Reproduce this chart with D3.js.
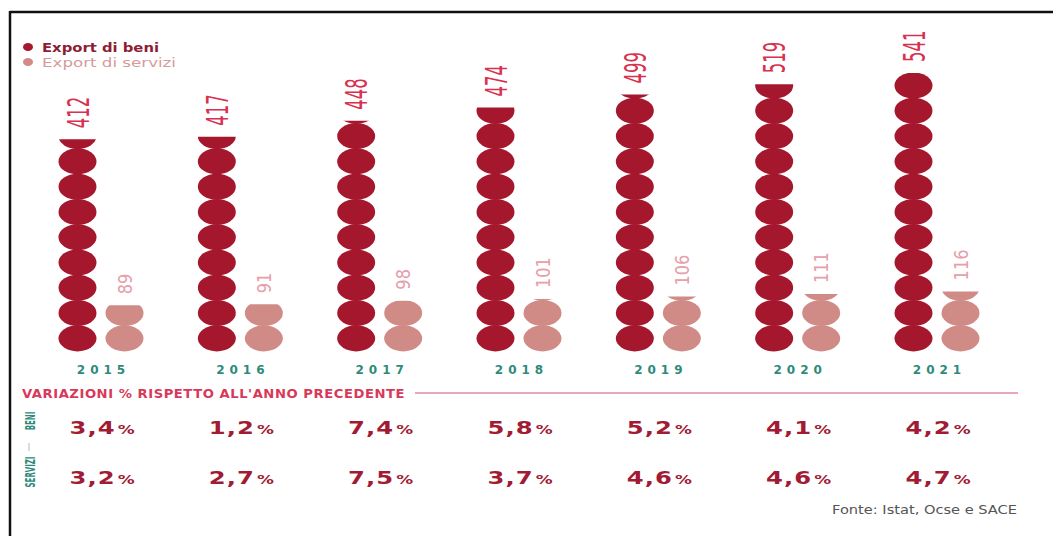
<!DOCTYPE html>
<html>
<head>
<meta charset="utf-8">
<script src="https://cdn.jsdelivr.net/npm/d3@7"></script>
<style>
  body { margin: 0; background: #fff; }
  svg { display: block; font-family: 'DejaVu Sans', sans-serif; }
</style>
</head>
<body>
<div class="App"></div>
<script>
const years = ['2015', '2016', '2017', '2018', '2019', '2020', '2021'];
const exportBeni = [412, 417, 448, 474, 499, 519, 541];
const exportServizi = [89, 91, 98, 101, 106, 111, 116];
const varBeni = [3.4, 1.2, 7.4, 5.8, 5.2, 4.1, 4.2];
const varServizi = [3.2, 2.7, 7.5, 3.7, 4.6, 4.6, 4.7];
const legendLabels = ['Export di beni', 'Export di servizi'];

const w = 1053;
const h = 536;
const base = 351;       // bottom of the dot columns
const dotValue = 49.2;  // how much one ellipse is worth
const off = 23.5;       // half distance between the two columns of a year

const colBeni = '#a5172d';
const colServizi = '#d08b87';

const svg = d3.select('.App').append('svg')
  .attr('width', w)
  .attr('height', h);

// frame, only top and left like the screenshot
svg.append('line').attr('x1', 10).attr('x2', w).attr('y1', 12).attr('y2', 12)
  .style('stroke', '#111').style('stroke-width', 2.5);
svg.append('line').attr('x1', 10).attr('x2', 10).attr('y1', 11).attr('y2', h)
  .style('stroke', '#111').style('stroke-width', 2.5);

const xScale = d3.scalePoint().domain(years).range([101, 937]);
const yScale = d3.scaleLinear().domain([0, 541]).range([base, 73]);

const pitch = yScale(0) - yScale(dotValue);
const ry = pitch / 2 + 0.4;
const rx = 19;

const fmt = (v) => d3.format('.1f')(v).replace('.', ',');

const series = [
  { key: 'beni', values: exportBeni, dx: -off, fill: colBeni },
  { key: 'servizi', values: exportServizi, dx: off, fill: colServizi }
];

const defs = svg.append('defs');

series.forEach(function(s) {
  years.forEach(function(yr, i) {
    const v = s.values[i];
    const cx = xScale(yr) + s.dx;
    const id = 'clip-' + s.key + '-' + yr;
    defs.append('clipPath').attr('id', id)
      .append('rect')
      .attr('x', cx - rx - 2)
      .attr('width', rx * 2 + 4)
      .attr('y', yScale(v))
      .attr('height', base - yScale(v) + 3);

    const n = Math.ceil(v / dotValue);
    svg.append('g').attr('clip-path', 'url(#' + id + ')')
      .selectAll('ellipse')
      .data(d3.range(n))
      .enter()
      .append('ellipse')
      .attr('cx', cx)
      .attr('cy', (d) => yScale((d + 0.5) * dotValue))
      .attr('rx', rx)
      .attr('ry', ry)
      .style('fill', s.fill);
  });
});

// value labels, rotated and squeezed
svg.selectAll('.lab-beni')
  .data(exportBeni)
  .enter()
  .append('text')
  .attr('class', 'lab-beni')
  .attr('transform', (d, i) => 'translate(' + (xScale(years[i]) - off + 11) + ',' + (yScale(d) - 11) + ') rotate(-90) scale(0.55,1)')
  .style('font-size', '30px')
  .style('fill', '#d8304f')
  .text((d) => d);

svg.selectAll('.lab-serv')
  .data(exportServizi)
  .enter()
  .append('text')
  .attr('class', 'lab-serv')
  .attr('transform', (d, i) => 'translate(' + (xScale(years[i]) + off + 7) + ',' + (yScale(d) - 11) + ') rotate(-90) scale(0.85,1)')
  .style('font-size', '19px')
  .style('fill', '#e6a0ab')
  .text((d) => d);

// year labels
svg.selectAll('.year')
  .data(years)
  .enter()
  .append('text')
  .attr('class', 'year')
  .attr('x', (d) => xScale(d) + 2.5)
  .attr('y', 373.5)
  .attr('text-anchor', 'middle')
  .style('font-size', '12px')
  .style('font-weight', '700')
  .style('letter-spacing', '5px')
  .style('fill', '#2f8a7c')
  .text((d) => d);

// legend
legendLabels.forEach(function(l, i) {
  svg.append('ellipse').attr('cx', 28).attr('cy', 47 + i * 15).attr('rx', 5).attr('ry', 4)
    .style('fill', i === 0 ? colBeni : colServizi);
  svg.append('text').attr('x', 42).attr('y', 51.5 + i * 15)
    .attr('textLength', i === 0 ? 117 : 134)
    .attr('lengthAdjust', 'spacingAndGlyphs')
    .style('font-size', '13px')
    .style('font-weight', i === 0 ? '700' : '400')
    .style('fill', i === 0 ? '#8e1d33' : '#d69a9c')
    .text(l);
});

// variazioni section
svg.append('text')
  .attr('x', 22).attr('y', 398)
  .attr('textLength', 383)
  .attr('lengthAdjust', 'spacingAndGlyphs')
  .style('font-size', '12.5px')
  .style('font-weight', '700')
  .style('letter-spacing', '0.5px')
  .style('fill', '#d8395a')
  .text("VARIAZIONI % RISPETTO ALL'ANNO PRECEDENTE");

svg.append('line').attr('x1', 415).attr('x2', 1018).attr('y1', 393).attr('y2', 393)
  .style('stroke', '#e8a8b7').style('stroke-width', 2);

const rows = [
  { label: 'BENI', values: varBeni, y: 434, ly: 421 },
  { label: 'SERVIZI', values: varServizi, y: 484, ly: 472 }
];

rows.forEach(function(r) {
  svg.append('text')
    .attr('transform', 'translate(35,' + r.ly + ') rotate(-90) scale(0.5,1)')
    .attr('text-anchor', 'middle')
    .style('font-size', '14px')
    .style('font-weight', '700')
    .style('fill', '#2f8a7c')
    .text(r.label);

  // wide bold digits: stretch horizontally
  const t = svg.selectAll(null)
    .data(r.values)
    .enter()
    .append('text')
    .attr('transform', (d, i) => 'translate(' + (xScale(years[i]) + 1) + ',' + r.y + ') scale(1.35,1)')
    .attr('text-anchor', 'middle')
    .style('font-weight', '700')
    .style('fill', '#a21b34');
  t.append('tspan').style('font-size', '18px').style('letter-spacing', '0.8px').text((d) => fmt(d));
  t.append('tspan').attr('dx', 1.5).style('font-size', '12.5px').text('%');
});

svg.append('line').attr('x1', 29).attr('x2', 29).attr('y1', 443).attr('y2', 451)
  .style('stroke', '#cfcfcf').style('stroke-width', 1.5);

svg.append('text')
  .attr('x', 1017).attr('y', 514)
  .attr('text-anchor', 'end')
  .attr('textLength', 185)
  .attr('lengthAdjust', 'spacingAndGlyphs')
  .style('font-size', '12px')
  .style('fill', '#555')
  .text('Fonte: Istat, Ocse e SACE');
</script>
</body>
</html>
